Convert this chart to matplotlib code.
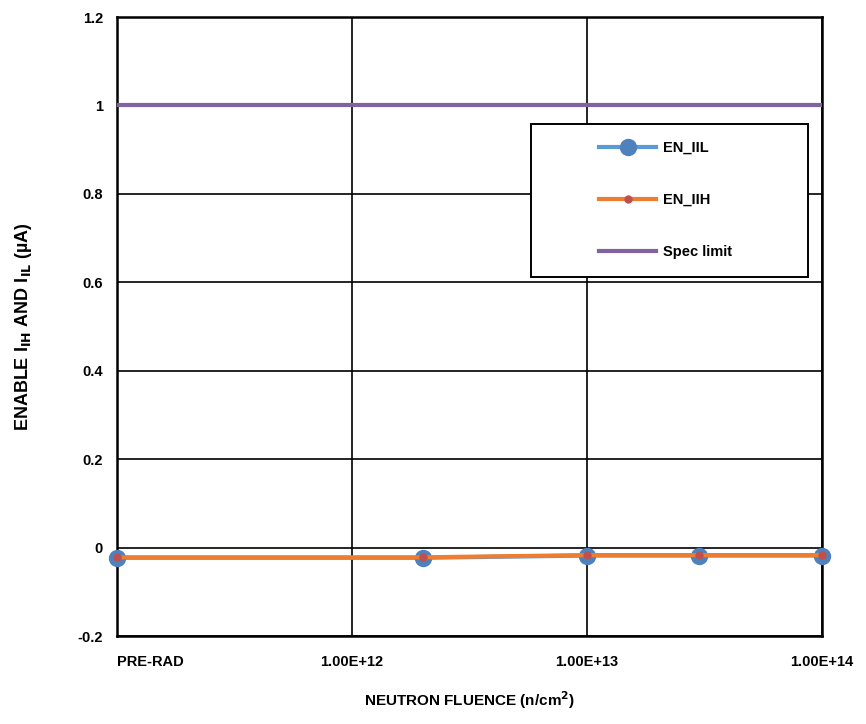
import matplotlib
matplotlib.use("Agg")
import matplotlib.pyplot as plt
from matplotlib.ticker import FixedLocator, NullLocator
from matplotlib.patches import Rectangle

plt.rcParams['font.family'] = ['Liberation Sans', 'DejaVu Sans']
plt.rcParams['font.weight'] = 'bold'

fluence = [1e11, 2e12, 1e13, 3e13, 1e14]
en_iil = [-0.023, -0.023, -0.018, -0.018, -0.018]
en_iih = [-0.022, -0.022, -0.017, -0.017, -0.017]
spec_x = [1e11, 1e14]
spec_limit = [1.0, 1.0]

xticks = [1e11, 1e12, 1e13, 1e14]
xticklabels = ['PRE-RAD', '1.00E+12', '1.00E+13', '1.00E+14']
yticks = [-0.2, 0, 0.2, 0.4, 0.6, 0.8, 1.0, 1.2]
yticklabels = ['-0.2', '0', '0.2', '0.4', '0.6', '0.8', '1', '1.2']

fig = plt.figure(figsize=(8.66, 7.24), dpi=100)
ax = fig.add_axes([0.135, 0.1215, 0.814, 0.855])

ax.set_xscale('log')
ax.set_xlim(1e11, 1e14)
ax.set_ylim(-0.2, 1.2)

ax.plot(fluence, en_iil, color='#5B9BD5', lw=3, marker='o', ms=11.5,
        mfc='#4F81BD', mec='#4F81BD', label='EN_IIL', zorder=3, clip_on=False)
ax.plot(fluence, en_iih, color='#ED7D31', lw=3, marker='o', ms=5,
        mfc='#C0504D', mec='#C0504D', label='EN_IIH', zorder=4, clip_on=False)
ax.plot(spec_x, spec_limit, color='#8064A2', lw=3, label='Spec limit', zorder=3)

ax.xaxis.set_major_locator(FixedLocator(xticks))
ax.xaxis.set_minor_locator(NullLocator())
ax.set_xticks(xticks)
ax.set_xticklabels(xticklabels, fontsize=10.5, fontweight='bold')
for lbl in ax.get_xticklabels():
    if lbl.get_text() == 'PRE-RAD':
        lbl.set_horizontalalignment('left')
ax.set_yticks(yticks)
ax.set_yticklabels(yticklabels, fontsize=10.5, fontweight='bold')
ax.tick_params(axis='x', length=0, pad=14)
ax.tick_params(axis='y', length=0, pad=10)

ax.grid(True, which='major', color='black', lw=1.2)
ax.set_axisbelow(True)
for s in ax.spines.values():
    s.set_color('black')
    s.set_linewidth(1.8)
    s.set_zorder(2.5)

ax.set_xlabel('NEUTRON FLUENCE (n/cm$^{\\mathbf{2}}$)', fontsize=11,
              fontweight='bold', labelpad=14)
ax.set_ylabel('ENABLE I$_{\\mathbf{IH}}$ AND I$_{\\mathbf{IL}}$ (\u00b5A)',
              fontsize=13, fontweight='bold', labelpad=31)

# legend frame box
box = Rectangle((0.587, 0.580), 0.393, 0.247, transform=ax.transAxes,
                facecolor='white', edgecolor='black', lw=1.4, zorder=5)
ax.add_patch(box)

leg = ax.legend(loc='upper left', bbox_to_anchor=(0.684, 0.800),
                frameon=False, borderaxespad=0, borderpad=0,
                labelspacing=2.6, handlelength=3.9, handletextpad=0.45,
                prop={'weight': 'bold', 'size': 10.5})
leg.set_zorder(6)

fig.savefig('out.png', dpi=100)
